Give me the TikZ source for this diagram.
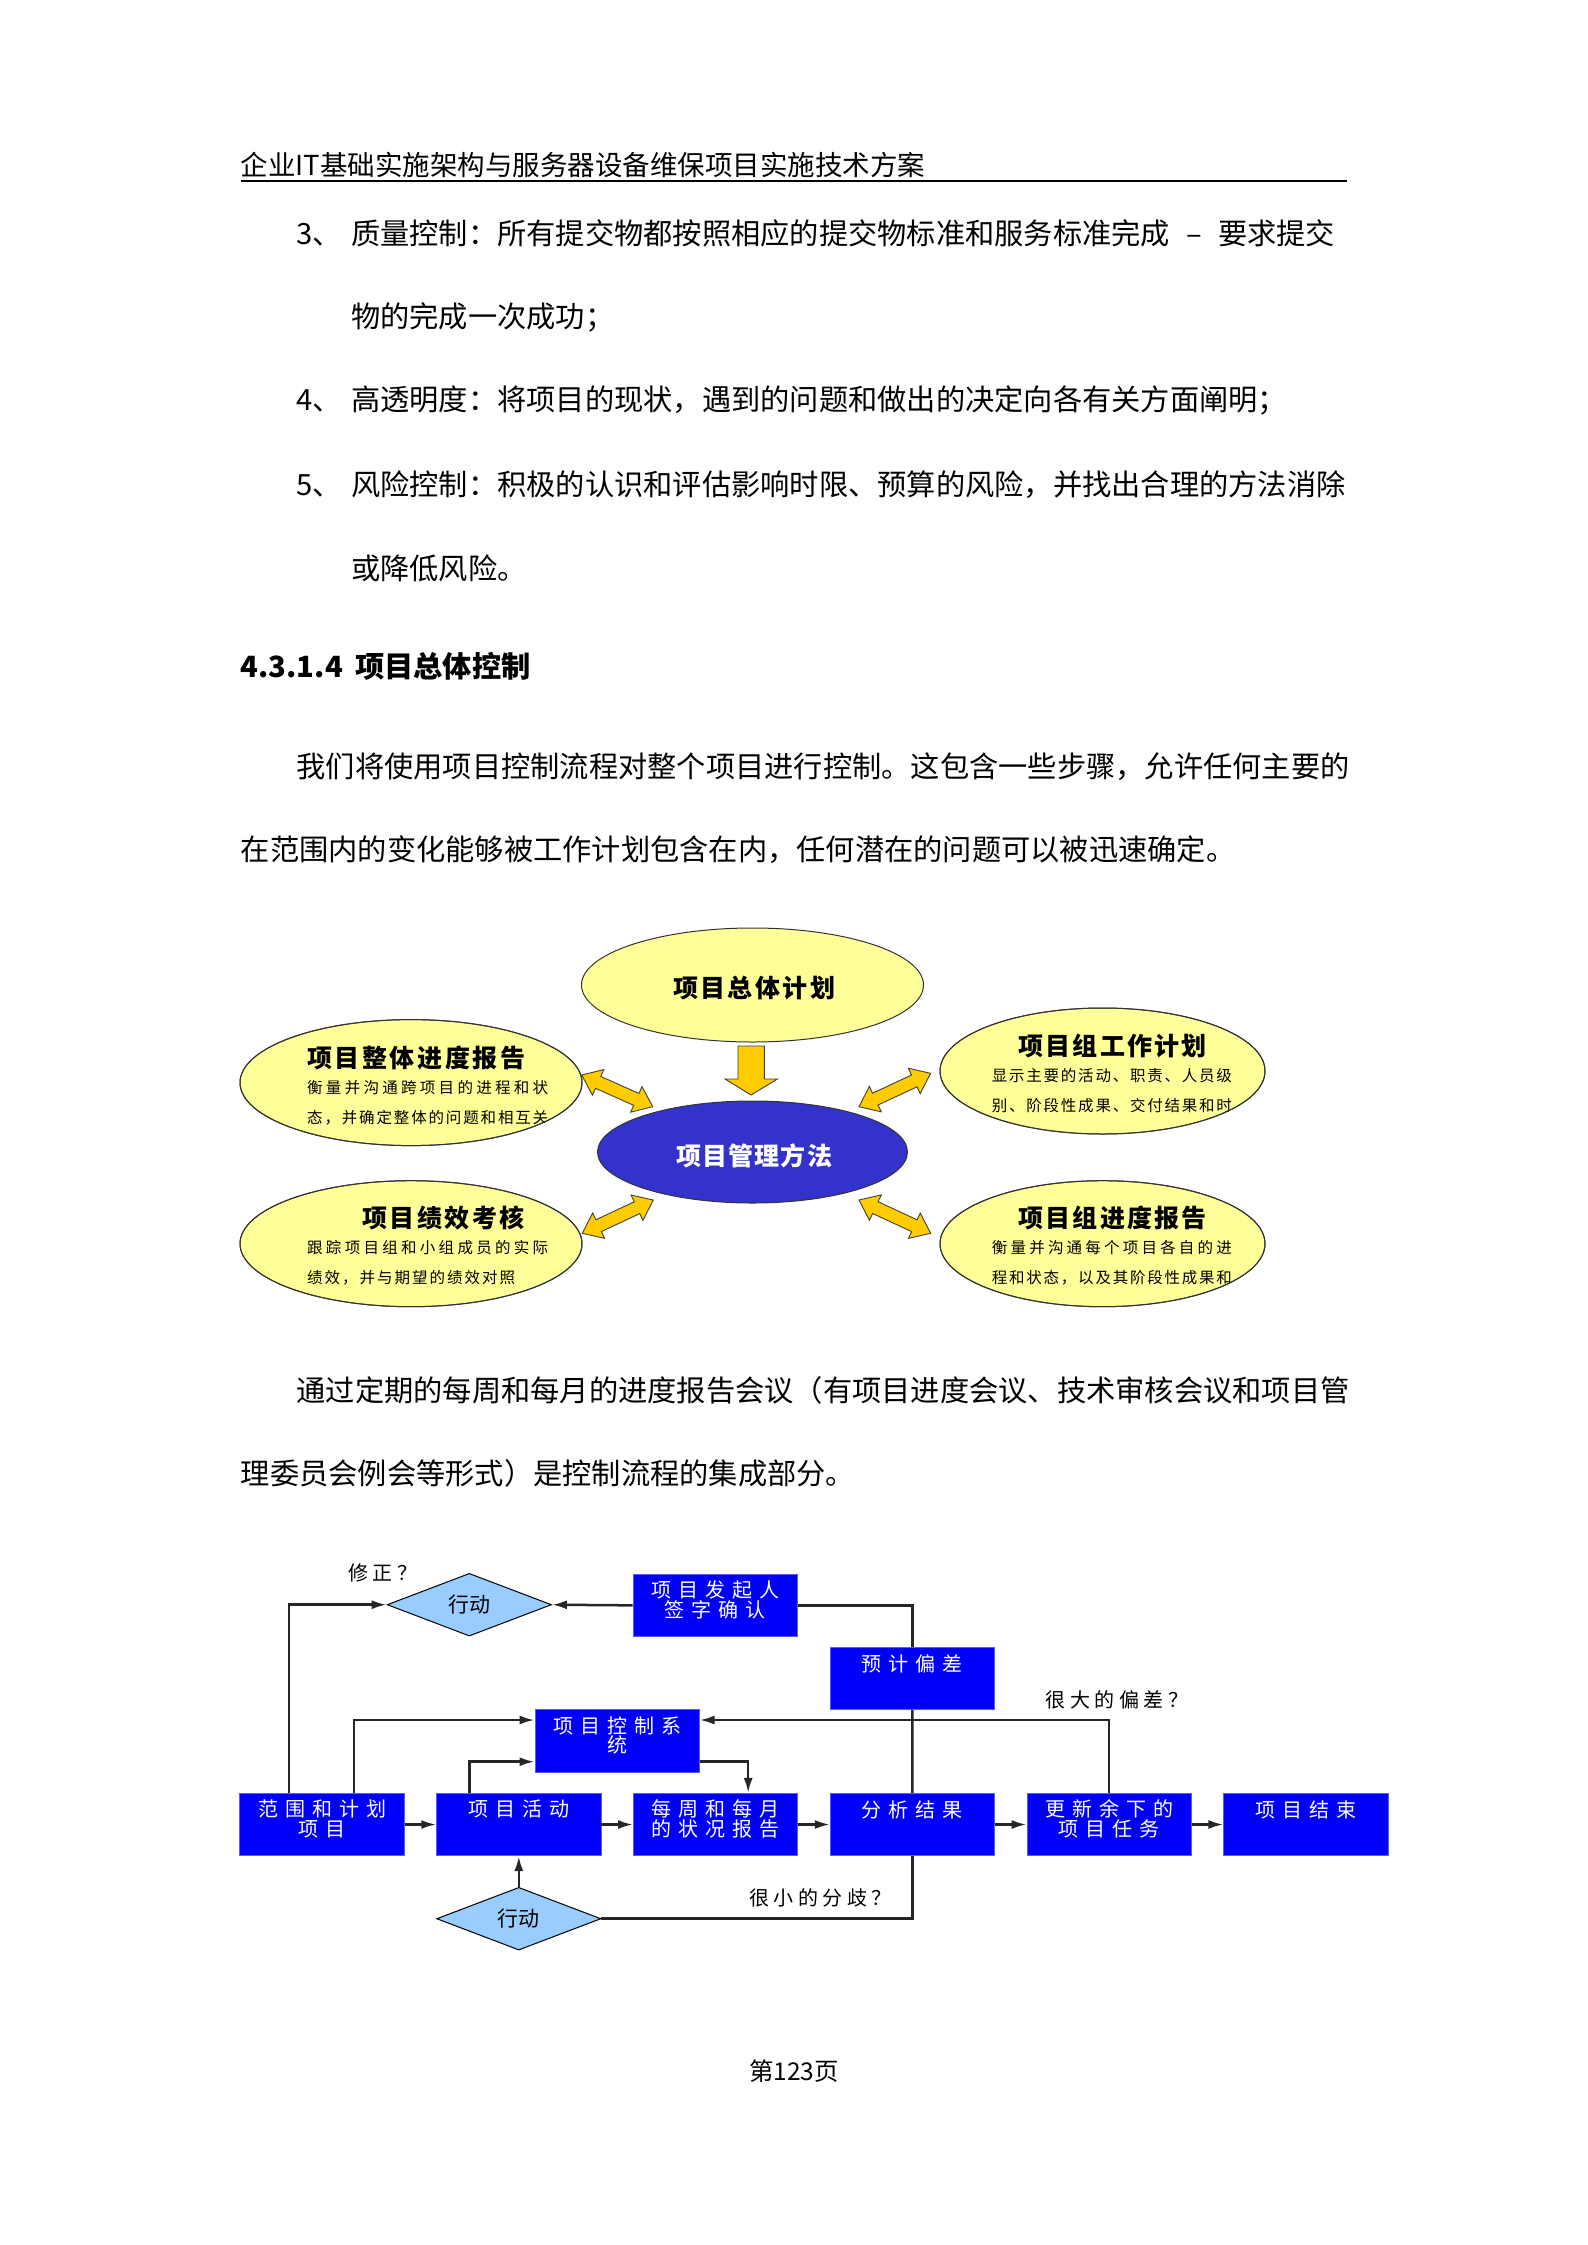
\documentclass[tikz,border=0pt]{standalone}
\usepackage{fontspec}
\setmainfont{Noto Sans CJK SC}
\usetikzlibrary{shapes.geometric,arrows.meta,calc}
\definecolor{ellyel}{RGB}{255,255,153}
\definecolor{ellblue}{RGB}{51,51,204}
\definecolor{arrgold}{RGB}{255,204,0}
\definecolor{boxblue}{RGB}{0,0,250}
\definecolor{boxedge}{RGB}{90,90,255}
\definecolor{diafill}{RGB}{153,204,255}
\newlength\lsp
\setlength\lsp{7pt}
\def\spread#1{\spreadfirst#1\relax}
\def\spreadfirst#1{#1\spreadrest}
\def\spreadrest#1{\ifx\relax#1\else\hfill#1\expandafter\spreadrest\fi}
\newcommand\jline[2]{\hbox to #1{\spread{#2}}}
\def\ls#1{\lsfirst#1\relax}
\def\lsfirst#1{#1\lsrest}
\def\lsrest#1{\ifx\relax#1\else\kern\lsp#1\expandafter\lsrest\fi}
\newcommand\lsl[1]{{\setlength\lsp{4.5pt}\ls{#1}}}
\newcommand\dblarr[3]{%
  \begin{scope}[shift={#1}, rotate=#2]
    \draw[garrow] (0,0) -- (18,14) -- (18,6.5) -- ({#3-18},6.5) -- ({#3-18},14) -- (#3,0)
      -- ({#3-18},-14) -- ({#3-18},-6.5) -- (18,-6.5) -- (18,-14) -- cycle;
  \end{scope}}
\tikzset{
  body/.style={anchor=base west, inner sep=0, font=\fontsize{29.25}{35}\selectfont},
  bodyb/.style={body, font=\fontsize{29.25}{35}\selectfont\bfseries},
  yell/.style={ellipse, draw=black!80, line width=1pt, fill=ellyel, inner sep=0},
  blueell/.style={ellipse, draw=black!80, line width=1pt, fill=ellblue, inner sep=0},
  yedge/.style={draw=black!80, line width=1pt},
  etitle/.style={inner sep=0, font=\fontsize{25}{28}\selectfont\bfseries},
  esmall/.style={inner sep=0, font=\fontsize{15.5}{18}\selectfont},
  garrow/.style={fill=arrgold, draw=black!75, line width=0.9pt, line join=miter},
  fbox/.style={draw=boxedge, line width=0.8pt, fill=boxblue, minimum width=164.3pt, minimum height=62.4pt, inner sep=0},
  ftxt/.style={text=white, font=\fontsize{20}{19.5}\selectfont, align=center, inner sep=0},
  fdia/.style={diamond, draw=black, line width=1pt, fill=diafill, minimum width=164.3pt, minimum height=62.7pt, inner sep=0, font=\fontsize{21}{22}\selectfont},
  fline/.style={line width=2.5pt, draw=black!85},
  farr/.style={fline, -{Latex[length=15pt,width=9pt]}},
  flab/.style={font=\fontsize{20}{22}\selectfont, anchor=west, inner sep=0},
}
\begin{document}
\begin{tikzpicture}[x=1pt,y=-1pt]
\fill[white] (0,0) rectangle (1587,2245);
\useasboundingbox (0,0) rectangle (1587,2245);

% ---------- header ----------
\node[anchor=base west, inner sep=0, font=\fontsize{27.5}{32}\selectfont] (hdr) at (240.6,176) {企业IT基础实施架构与服务器设备维保项目实施技术方案};
\draw[line width=2.2pt] (240.6,180.8) -- (1346.5,180.8);

% ---------- body text ----------
\node[body] (n3) at (296.5,244.5) {3、};
\node[body] (t3) at (351,244.5) {\hbox to 984pt{质量控制：所有提交物都按照相应的提交物标准和服务标准完成\hfil{}–\hfil{}要求提交}};
\node[body] (t3b) at (351,327.5) {物的完成一次成功；};
\node[body] (n4) at (296.5,410.6) {4、};
\node[body] (t4) at (351,410.6) {高透明度：将项目的现状，遇到的问题和做出的决定向各有关方面阐明；};
\node[body] (n5) at (296.5,495) {5、};
\node[body] (t5) at (351,495) {风险控制：积极的认识和评估影响时限、预算的风险，并找出合理的方法消除};
\node[body] (t5b) at (351,579.6) {或降低风险。};
\node[bodyb] (hnum) at (240.6,677) {4.3.1.4};
\node[bodyb] (htit) at (355,677) {项目总体控制};
\node[body] (p1a) at (296.5,777.3) {我们将使用项目控制流程对整个项目进行控制。这包含一些步骤，允许任何主要的};
\node[body] (p1b) at (240.6,860.4) {在范围内的变化能够被工作计划包含在内，任何潜在的问题可以被迅速确定。};
\node[body] (p2a) at (296.5,1401.8) {通过定期的每周和每月的进度报告会议（有项目进度会议、技术审核会议和项目管};
\node[body] (p2b) at (240.6,1484.8) {理委员会例会等形式）是控制流程的集成部分。};
\node[anchor=base, inner sep=0, font=\fontsize{24.5}{28}\selectfont] (pg) at (794,2080) {第123页};

% ---------- figure 1: ellipses ----------
\node[yell, minimum width=342pt, minimum height=114pt] (PLAN) at (752.5,985) {};
\node[blueell, minimum width=310pt, minimum height=102pt] (PM) at (752.5,1152) {};
\node[yell, minimum width=342pt, minimum height=126pt] (LT) at (411,1082.6) {};
\node[yell, minimum width=342pt, minimum height=126pt] (LB) at (411,1243.7) {};
\node[yell, minimum width=325pt, minimum height=126pt] (RT) at (1102.5,1071) {};
\node[yell, minimum width=325pt, minimum height=126pt] (RB) at (1102.5,1243.7) {};

\node[etitle] (PLANt) at (754,988) {\jline{162pt}{项目总体计划}};
\node[etitle, text=white] (PMt) at (754,1156) {\jline{156pt}{项目管理方法}};

\begin{scope}
  \clip (LT.center) ellipse [x radius=171pt, y radius=63pt];
  \node[etitle, anchor=west] (LTt) at (307,1057.7) {\jline{218pt}{项目整体进度报告}};
  \node[esmall, anchor=west] (LT2) at (307,1087.7) {\jline{241pt}{衡量并沟通跨项目的进程和状}};
  \node[esmall, anchor=west] (LT3) at (307,1117.7) {\jline{241pt}{态，并确定整体的问题和相互关}};
\end{scope}
\draw[yedge] (LT.center) ellipse [x radius=171pt, y radius=63pt];

\begin{scope}
  \clip (LB.center) ellipse [x radius=171pt, y radius=63pt];
  \node[etitle, anchor=west] (LBt) at (362.4,1217.8) {\jline{162pt}{项目绩效考核}};
  \node[esmall, anchor=west] (LB2) at (307,1247.8) {\jline{241pt}{跟踪项目组和小组成员的实际}};
  \node[esmall, anchor=west] (LB3) at (307,1277.8) {\jline{208pt}{绩效，并与期望的绩效对照}};
\end{scope}
\draw[yedge] (LB.center) ellipse [x radius=171pt, y radius=63pt];

\begin{scope}
  \clip (RT.center) ellipse [x radius=162.5pt, y radius=63pt];
  \node[etitle, anchor=west] (RTt) at (1018.3,1046) {\jline{188.4pt}{项目组工作计划}};
  \node[esmall, anchor=west] (RT2) at (991.7,1076) {\jline{240pt}{显示主要的活动、职责、人员级}};
  \node[esmall, anchor=west] (RT3) at (991.7,1106) {\jline{240pt}{别、阶段性成果、交付结果和时}};
\end{scope}
\draw[yedge] (RT.center) ellipse [x radius=162.5pt, y radius=63pt];

\begin{scope}
  \clip (RB.center) ellipse [x radius=162.5pt, y radius=63pt];
  \node[etitle, anchor=west] (RBt) at (1018.3,1218) {\jline{188.4pt}{项目组进度报告}};
  \node[esmall, anchor=west] (RB2) at (991.7,1248) {\jline{240pt}{衡量并沟通每个项目各自的进}};
  \node[esmall, anchor=west] (RB3) at (991.7,1278) {\jline{240pt}{程和状态，以及其阶段性成果和}};
\end{scope}
\draw[yedge] (RB.center) ellipse [x radius=162.5pt, y radius=63pt];

% block arrows
\draw[garrow] (738,1046) -- (764.4,1046) -- (764.4,1079) -- (777.4,1079) -- (751,1095) -- (725,1079) -- (738,1079) -- cycle;
\dblarr{(581.7,1075)}{-24.06}{77.8}
\dblarr{(582.3,1233.3)}{25.1}{78.4}
\dblarr{(859,1106.7)}{25}{79}
\dblarr{(859,1200)}{-24.9}{79}

% ---------- figure 2: flowchart ----------
\node[fbox] (B1) at (322,1824.5) {};
\node[fbox] (B2) at (518.8,1824.5) {};
\node[fbox] (B3) at (715.6,1824.5) {};
\node[fbox] (B4) at (912.4,1824.5) {};
\node[fbox] (B5) at (1109.2,1824.5) {};
\node[fbox] (B6) at (1306,1824.5) {};
\node[fbox] (FQ) at (715.25,1605.35) {};
\node[fbox] (YJ) at (912.45,1678.5) {};
\node[fbox] (CS) at (617.05,1740.8) {};
\node[fdia] (D1) at (469.3,1604.7) {行动};
\node[fdia] (D2) at (518.8,1918.7) {行动};

\node[ftxt] (B1t) at ($(B1.north)+(0,26)$) {\ls{范围和计划}\\\ls{项目}};
\node[ftxt] (B2t) at ($(B2.north)+(0,16.5)$) {\ls{项目活动}};
\node[ftxt] (B3t) at ($(B3.north)+(0,26)$) {\ls{每周和每月}\\\ls{的状况报告}};
\node[ftxt] (B4t) at ($(B4.north)+(0,16.5)$) {\ls{分析结果}};
\node[ftxt] (B5t) at ($(B5.north)+(0,26)$) {\ls{更新余下的}\\\ls{项目任务}};
\node[ftxt] (B6t) at ($(B6.north)+(0,16.5)$) {\ls{项目结束}};
\node[ftxt] (FQt) at ($(FQ.north)+(0,26)$) {\ls{项目发起人}\\\ls{签字确认}};
\node[ftxt] (YJt) at ($(YJ.north)+(0,16.5)$) {\ls{预计偏差}};
\node[ftxt] (CSt) at ($(CS.north)+(0,26)$) {\ls{项目控制系}\\\ls{统}};

\node[flab] (L1) at (348,1572.7) {\lsl{修正？}};
\node[flab] (L2) at (749,1897.5) {\lsl{很小的分歧？}};
\node[flab] (L3) at (1045.5,1699.5) {\lsl{很大的偏差？}};

\draw[farr] (B1.east) -- (B2.west);
\draw[farr] (B2.east) -- (B3.west);
\draw[farr] (B3.east) -- (B4.west);
\draw[farr] (B4.east) -- (B5.west);
\draw[farr] (B5.east) -- (B6.west);
\draw[farr] ([xshift=-33pt]B1.north) |- (D1.west);
\draw[farr] ([xshift=32pt]B1.north) |- ([yshift=20.8pt]CS.west);
\draw[farr] ([xshift=-49.1pt]B2.north) |- ([yshift=-20.9pt]CS.west);
\draw[farr] ([yshift=-20.9pt]CS.east) -| ([xshift=32.6pt]B3.north);
\draw[farr] (FQ.west) -- (D1.east);
\draw[fline] (FQ.east) -| (YJ.north);
\draw[fline] (YJ.south) -- (B4.north);
\draw[fline] (B4.south) |- (D2.east);
\draw[farr] (D2.north) -- (B2.south);
\draw[farr] (B5.north) |- ([yshift=20.8pt]CS.east);
\end{tikzpicture}
\end{document}
